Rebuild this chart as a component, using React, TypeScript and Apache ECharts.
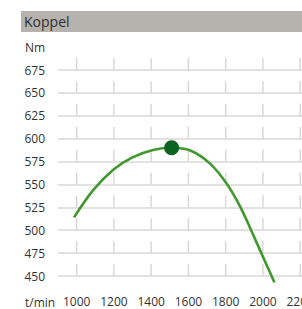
import React, { useEffect, useRef } from "react";
import * as echarts from "echarts";

const title = "Koppel";
const yUnit = "Nm";
const xUnit = "t/min";
const xTicks = [1000, 1200, 1400, 1600, 1800, 2000, 2200];
const yTicks = [450, 475, 500, 525, 550, 575, 600, 625, 650, 675];
const torqueCurve: [number, number][] = [
  [986, 514], [1090, 544], [1200, 566.5], [1300, 579.5], [1410, 587.5], [1510, 590],
  [1610, 587], [1715, 573], [1805, 551], [1880, 525], [1950, 494], [2020, 462], [2062, 443],
];
const peakPoint: [number, number][] = [[1510, 590]];

const FONT = "'Open Sans', sans-serif";

export default function App() {
  const ref = useRef<HTMLDivElement>(null);
  useEffect(() => {
    if (!ref.current) return;
    const chart = echarts.init(ref.current, undefined, { renderer: "svg" });
    const tickMarks: [number, number][] = [];
    xTicks.forEach((x) => yTicks.forEach((y) => tickMarks.push([x, y])));
    chart.setOption({
      animation: false,
      backgroundColor: "#ffffff",
      grid: { left: 58, right: 0, top: 70, bottom: 33, containLabel: false, outerBoundsMode: "none" },
      xAxis: {
        type: "value",
        min: 900,
        max: 2210,
        interval: 100,
        axisLine: { show: false },
        axisTick: { show: false },
        splitLine: { show: false },
        axisLabel: {
          margin: 19,
          color: "#333333",
          fontFamily: FONT,
          fontSize: 12,
          showMinLabel: true,
          showMaxLabel: false,
          hideOverlap: false,
          formatter: (v: number) => (xTicks.includes(v) ? String(v) : ""),
        },
      },
      yAxis: {
        type: "value",
        min: 450,
        max: 675,
        interval: 25,
        axisLine: { show: false },
        axisTick: { show: false },
        splitLine: { show: true, lineStyle: { color: "#d8d8d8", width: 1.5 } },
        axisLabel: { margin: 13, color: "#333333", fontFamily: FONT, fontSize: 12 },
      },
      graphic: [
        { type: "rect", shape: { x: 21, y: 11, width: 281, height: 21 }, style: { fill: "#b6b2ae" }, silent: true },
        { type: "text", x: 24, y: 21.5, style: { text: title, fill: "#2e2e2e", font: `14px ${FONT}`, verticalAlign: "middle" } },
        { type: "text", x: 25, y: 47, style: { text: yUnit, fill: "#333333", font: `12px ${FONT}`, verticalAlign: "middle" } },
        { type: "text", x: 25, y: 302, style: { text: xUnit, fill: "#333333", font: `12px ${FONT}`, verticalAlign: "middle" } },
      ],
      series: [
        {
          type: "scatter",
          data: tickMarks,
          symbol: "rect",
          symbolSize: [1.5, 12],
          symbolOffset: [0, -6],
          itemStyle: { color: "#d8d8d8", opacity: 1 },
          silent: true,
          z: 1,
        },
        {
          type: "line",
          data: torqueCurve,
          smooth: 0.35,
          showSymbol: false,
          clip: false,
          lineStyle: { color: "#3f992f", width: 2.6 },
          z: 3,
        },
        {
          type: "scatter",
          data: peakPoint,
          symbol: "circle",
          symbolSize: 15,
          itemStyle: { color: "#0b6321", opacity: 1 },
          z: 4,
        },
      ],
    });
    return () => chart.dispose();
  }, []);
  return <div ref={ref} style={{ position: "fixed", left: 0, top: 0, width: 302, height: 309 }} />;
}
